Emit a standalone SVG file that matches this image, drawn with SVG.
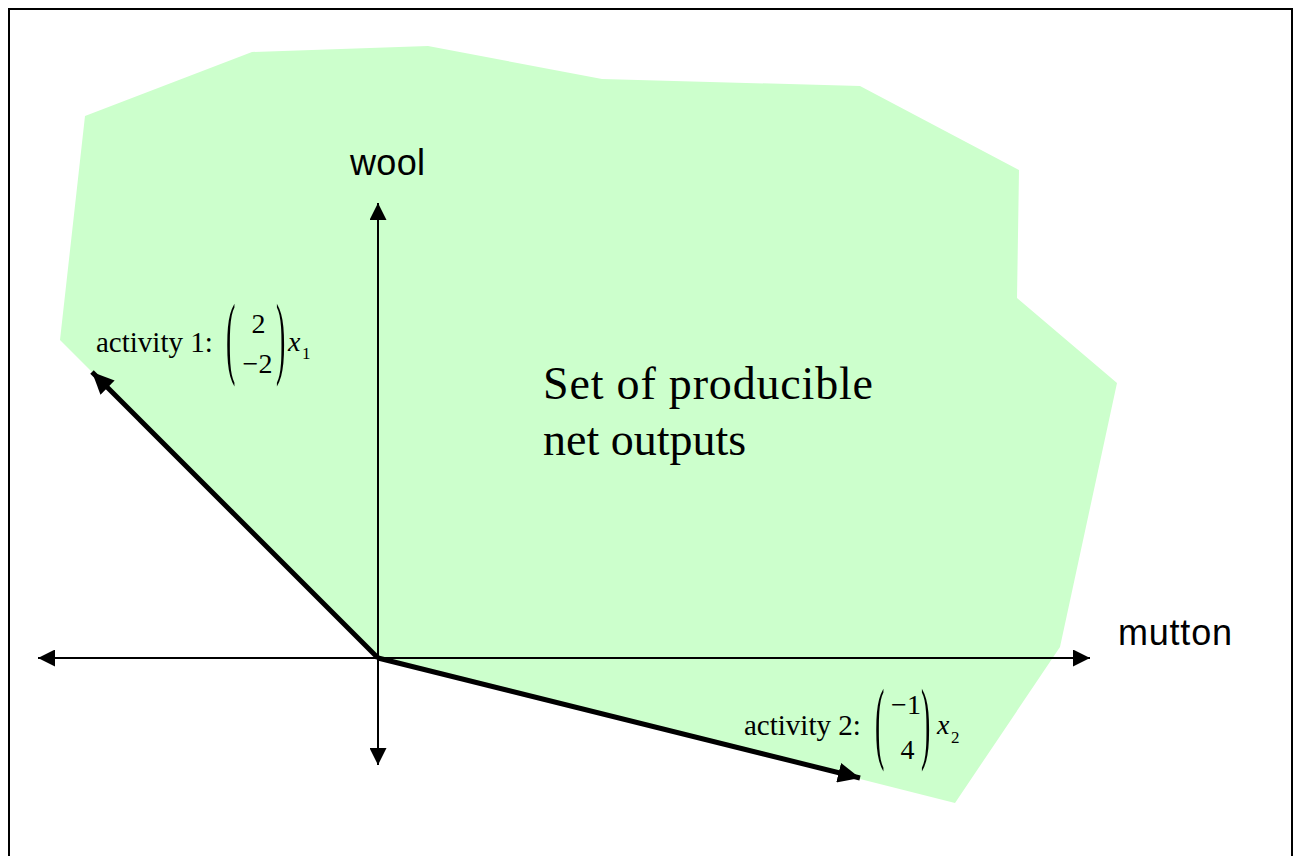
<svg xmlns="http://www.w3.org/2000/svg" width="1302" height="856" viewBox="0 0 1302 856">
  <style>
    .sans { font-family: "Liberation Sans", Arial, sans-serif; fill: #000; }
    .serif { font-family: "Liberation Serif", "Times New Roman", serif; fill: #000; }
    .axis { stroke: #000; stroke-width: 2; fill: none; }
    .act { stroke: #000; stroke-width: 5; fill: none; }
  </style>
  <defs>
    <marker id="ahAxis" markerWidth="17" markerHeight="17" refX="17" refY="8.5" orient="auto-start-reverse" markerUnits="userSpaceOnUse">
      <path d="M0,0 L17,8.5 L0,17 Z" fill="#000"/>
    </marker>
    <marker id="ahAct" markerWidth="22" markerHeight="20" refX="22" refY="10" orient="auto" markerUnits="userSpaceOnUse">
      <path d="M0,0 L22,10 L0,20 Z" fill="#000"/>
    </marker>
  </defs>
  <rect x="0" y="0" width="1302" height="856" fill="#fff"/>
  <rect id="frame" x="9" y="9" width="1283" height="870" fill="none" stroke="#000" stroke-width="2"/>

  <g id="region">
    <polygon fill="#CCFFCC" points="85,116 252,52 428,46 602,79 860,86 1019,170 1017,298 1117,383 1060,647 955,803 860,779 378,658 60,340"/>
    <text class="serif" x="543" y="399" font-size="46" textLength="330">Set of producible</text>
    <text class="serif" x="543" y="455" font-size="46">net outputs</text>
  </g>

  <g id="connectors">
    <line id="h-axis" class="axis" x1="38" y1="658" x2="1090" y2="658" marker-start="url(#ahAxis)" marker-end="url(#ahAxis)"/>
    <line id="v-axis" class="axis" x1="378" y1="203" x2="378" y2="765" marker-start="url(#ahAxis)" marker-end="url(#ahAxis)"/>
    <line id="activity1-arrow" class="act" x1="378" y1="658" x2="92" y2="372" marker-end="url(#ahAct)"/>
    <line id="activity2-arrow" class="act" x1="378" y1="658" x2="860" y2="778" marker-end="url(#ahAct)"/>
  </g>

  <g id="wool-label">
    <text class="sans" x="350" y="175" font-size="36" textLength="75">wool</text>
  </g>
  <g id="mutton-label">
    <text class="sans" x="1118" y="645" font-size="36" textLength="114">mutton</text>
  </g>

  <g id="activity1-label">
    <text class="serif" x="96" y="352" font-size="29">activity 1:</text>
    <text class="serif" font-size="20" transform="translate(226,367) scale(1.4,4.6)">(</text>
    <text class="serif" font-size="20" transform="translate(276,367) scale(1.4,4.6)">)</text>
    <text class="serif" x="258.5" y="333" font-size="28" text-anchor="middle">2</text>
    <text class="serif" x="257.5" y="373" font-size="28" text-anchor="middle">−2</text>
    <text class="serif" x="288" y="351" font-size="28" font-style="italic">x</text>
    <text class="serif" x="302" y="359" font-size="17">1</text>
  </g>

  <g id="activity2-label">
    <text class="serif" x="744" y="735" font-size="29">activity 2:</text>
    <text class="serif" font-size="20" transform="translate(875,752) scale(1.4,4.6)">(</text>
    <text class="serif" font-size="20" transform="translate(921,752) scale(1.4,4.6)">)</text>
    <text class="serif" x="906" y="714" font-size="28" text-anchor="middle">−1</text>
    <text class="serif" x="907.5" y="759" font-size="28" text-anchor="middle">4</text>
    <text class="serif" x="937" y="734" font-size="28" font-style="italic">x</text>
    <text class="serif" x="951" y="743" font-size="17">2</text>
  </g>
</svg>
